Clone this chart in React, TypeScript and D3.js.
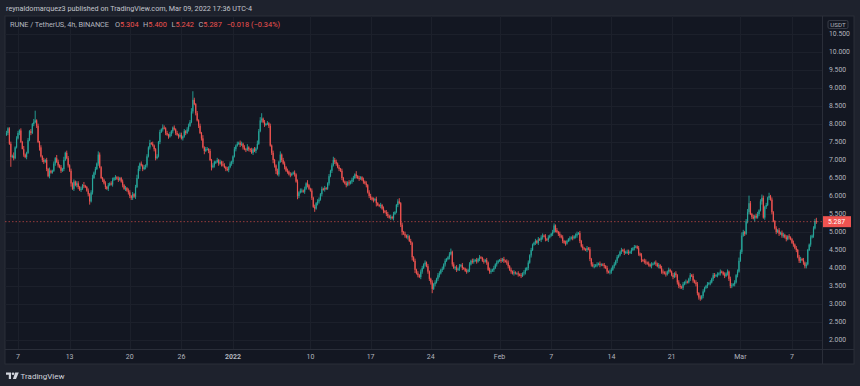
import React from 'react';
import * as d3 from 'd3';

// 4h closes, Dec 5 2021 16:00 UTC -> Mar 9 2022 20:00 UTC (one row per day)
const closes = [
  7.75, 7.88,
  7.45, 7.08, 7.12, 7.05, 7.35, 7.6,
  7.75, 7.82, 7.5, 7.3, 7.15, 7.08,
  7.2, 7.55, 7.8, 7.75, 8.0, 8.05,
  8.1, 7.95, 7.5, 7.35, 7.1, 7.0,
  6.95, 7.0, 6.75, 6.55, 6.7, 6.65,
  6.7, 6.9, 7.05, 6.95, 6.85, 6.8,
  6.7, 6.75, 7.0, 7.2, 7.05, 6.85,
  6.7, 6.35, 6.2, 6.4, 6.3, 6.35,
  6.25, 6.17, 6.2, 6.3, 6.28, 6.25,
  6.15, 6.05, 5.85, 6.1, 6.5, 6.65,
  6.75, 6.9, 7.15, 6.8, 6.5, 6.45,
  6.35, 6.25, 6.2, 6.3, 6.35, 6.32,
  6.45, 6.5, 6.52, 6.48, 6.45, 6.5,
  6.4, 6.3, 6.2, 6.22, 6.15, 6.1,
  6.0, 5.95, 6.05, 5.98, 6.25, 6.5,
  6.75, 6.9, 6.85, 6.75, 6.8, 6.85,
  7.1, 7.35, 7.47, 7.45, 7.4, 7.3,
  7.05, 7.1, 7.5, 7.78, 7.85, 7.9,
  7.88, 7.75, 7.7, 7.65, 7.72, 7.8,
  7.9, 7.85, 7.75, 7.7, 7.65, 7.7,
  7.6, 7.65, 7.8, 7.75, 7.85, 7.95,
  8.05, 8.35, 8.67, 8.55, 8.3, 8.1,
  7.95, 7.75, 7.6, 7.35, 7.25, 7.3,
  7.3, 7.25, 7.0, 6.8, 6.85, 6.95,
  6.95, 7.0, 6.9, 6.95, 6.88, 6.85,
  6.8, 6.75, 6.72, 6.8, 6.9, 6.95,
  7.1, 7.3, 7.4, 7.45, 7.48, 7.42,
  7.45, 7.35, 7.3, 7.28, 7.35, 7.3,
  7.28, 7.2, 7.3, 7.25, 7.32, 7.45,
  7.8, 8.1, 8.15, 8.05, 7.98, 8.0,
  8.02, 7.95, 7.4, 7.2, 7.0, 6.85,
  6.7, 6.6, 6.95, 7.15, 7.0, 6.9,
  6.8, 6.7, 6.68, 6.6, 6.58, 6.62,
  6.65, 6.6, 6.4, 6.0, 6.1, 6.15,
  6.15, 6.12, 6.2, 6.35, 6.3, 6.2,
  6.15, 5.95, 5.7, 5.65, 5.8, 5.85,
  5.9, 6.05, 6.2, 6.18, 6.22, 6.2,
  6.35, 6.55, 6.7, 6.85, 7.0, 6.95,
  6.9, 6.8, 6.75, 6.7, 6.5, 6.4,
  6.35, 6.3, 6.38, 6.35, 6.4, 6.45,
  6.5, 6.6, 6.55, 6.5, 6.48, 6.52,
  6.45, 6.4, 6.35, 6.3, 6.1, 6.0,
  5.95, 5.9, 5.88, 5.92, 5.8, 5.75,
  5.72, 5.75, 5.65, 5.58, 5.55, 5.5,
  5.45, 5.4, 5.42, 5.38, 5.5, 5.55,
  5.75, 5.85, 5.8, 5.2, 5.0, 4.95,
  4.9, 4.85, 4.88, 4.75, 4.7, 4.3,
  4.2, 3.95, 3.85, 3.8, 3.75, 3.9,
  4.0, 4.1, 4.15, 4.05, 3.9, 3.7,
  3.6, 3.42, 3.55, 3.6, 3.7, 3.8,
  3.85, 3.95, 3.98, 4.1, 4.2, 4.25,
  4.3, 4.38, 4.45, 4.1, 4.0, 4.02,
  3.95, 3.98, 4.05, 4.08, 4.0, 3.98,
  3.92, 3.9, 3.95, 4.1, 4.2, 4.18,
  4.2, 4.22, 4.18, 4.25, 4.3, 4.28,
  4.2, 4.18, 4.22, 4.15, 3.95, 3.9,
  3.92, 3.95, 4.0, 4.1, 4.15, 4.2,
  4.22, 4.2, 4.25, 4.2, 4.18, 4.15,
  4.05, 3.95, 3.9, 3.85, 3.88, 3.85,
  3.85, 3.82, 3.8, 3.78, 3.85, 3.88,
  3.95, 4.0, 4.15, 4.35, 4.5, 4.65,
  4.7, 4.75, 4.7, 4.8, 4.78, 4.85,
  4.9, 4.88, 4.8, 4.78, 4.85, 4.9,
  4.95, 5.0, 5.18, 5.05, 5.0, 4.95,
  4.9, 4.85, 4.75, 4.7, 4.68, 4.75,
  4.8, 4.82, 4.85, 4.83, 4.88, 4.9,
  4.95, 4.97, 4.75, 4.6, 4.55, 4.52,
  4.5, 4.55, 4.52, 4.25, 4.1, 4.05,
  4.05, 4.08, 4.1, 4.12, 4.08, 4.1,
  4.08, 4.05, 4.0, 3.9, 3.88, 3.9,
  3.95, 4.05, 4.1, 4.2, 4.3, 4.35,
  4.45, 4.5, 4.48, 4.42, 4.45, 4.45,
  4.42, 4.45, 4.5, 4.55, 4.58, 4.6,
  4.55, 4.4, 4.35, 4.22, 4.2, 4.18,
  4.15, 4.12, 4.1, 4.05, 4.1, 4.12,
  4.15, 4.12, 4.05, 4.08, 4.0, 3.9,
  3.88, 3.85, 3.82, 3.9, 3.95, 3.9,
  3.8, 3.75, 3.85, 3.8, 3.6, 3.5,
  3.48, 3.45, 3.55, 3.6, 3.62, 3.6,
  3.7, 3.8, 3.78, 3.65, 3.6, 3.55,
  3.3, 3.18, 3.15, 3.22, 3.35, 3.45,
  3.5, 3.55, 3.58, 3.6, 3.7, 3.8,
  3.78, 3.8, 3.82, 3.85, 3.9, 3.88,
  3.82, 3.78, 3.85, 3.9, 3.7, 3.5,
  3.52, 3.55, 3.6, 3.8, 3.9, 4.2,
  4.45, 4.9, 5.0, 4.95, 5.3, 5.55,
  5.8, 5.5, 5.42, 5.38, 5.45, 5.4,
  5.5, 5.6, 5.85, 5.95, 5.4, 5.7,
  5.75, 5.95, 6.0, 5.9, 5.55, 5.3,
  5.1, 5.0, 5.05, 4.95, 4.98, 4.9,
  4.92, 4.85, 4.8, 4.88, 4.85, 4.8,
  4.7, 4.65, 4.55, 4.5, 4.3, 4.2,
  4.25, 4.22, 4.15, 4.05, 4.1, 4.5,
  4.65, 4.85, 4.9, 5.1, 5.304, 5.287,
];
const firstOpen = 7.7;

// wick lengths per candle, in steps of 0.03 USDT (one group per day)
const wickHi = `21 121312 212131 121213 912121 212131 121321 213122 121212 212131 121231
213211 121212 212121 121212 212123 312121 213121 121213 212121 121212 212122
238212 121312 212121 121213 212121 121212 212131 121213 235121 212121 121312
212121 121212 212131 121212 212121 121232 212121 121212 213121 121212 212121
121212 212121 123121 212121 121212 212121 121212 212121 123121 212121 121212
212121 121212 212121 121212 212121 121212 212121 121212 212121 122121 212121
121212 212121 121212 212121 121212 212121 121212 212121 121212 212121 121212
212121 121212 212121 121212 212121 121212 212121 121212 212123 232123 721212
212321 213121 121212 212121 121212 212121 121223`;
const wickLo = `12 191211 121021 211212 121312 212121 112121 212112 131212 212121 123121
212112 121211 212121 121212 222121 121212 212112 211212 121212 212121 121212
112121 212131 121312 212121 121212 212112 121212 212121 112121 121232 312121
212121 121321 212121 121312 212121 121212 212121 121212 212121 121212 212131
121212 212121 121231 212123 131212 212122 241212 212121 121212 212121 121212
212121 121212 212121 121212 212121 121212 212121 121212 212121 121212 212121
121212 212121 121221 212121 121212 212121 121212 212121 121212 212121 121212
212121 121222 212121 121212 222121 121212 212121 121222 212121 121212 212131
121312 212121 121212 212121 121212 212221 121212`;

const priceTicks = [2, 2.5, 3, 3.5, 4, 4.5, 5, 5.5, 6, 6.5, 7, 7.5, 8, 8.5, 9, 9.5, 10, 10.5];
const timeTicks = [
  [2021, 11, 7, '7'], [2021, 11, 13, '13'], [2021, 11, 20, '20'], [2021, 11, 26, '26'],
  [2022, 0, 1, '2022'], [2022, 0, 10, '10'], [2022, 0, 17, '17'], [2022, 0, 24, '24'],
  [2022, 1, 1, 'Feb'], [2022, 1, 7, '7'], [2022, 1, 14, '14'], [2022, 1, 21, '21'],
  [2022, 2, 1, 'Mar'], [2022, 2, 7, '7'],
] as [number, number, number, string][];

const lastClose = 5.287;
const legendFields = [
  ['O', '5.304'], ['H', '5.400'], ['L', '5.242'], ['C', '5.287'],
];

const UP = '#26a69a';
const DOWN = '#ef5350';
const FONT = 'Roboto, "Noto Sans", sans-serif';

export default function App() {
  const W = 860, H = 386;
  const panel = { left: 5, right: 854, top: 16, bottom: 364 };
  const plotRight = 822;
  const axisTop = 349;

  const x = d3.scaleUtc()
    .domain([new Date(Date.UTC(2021, 11, 7)), new Date(Date.UTC(2022, 2, 7))])
    .range([18, 792]);
  const y = d3.scaleLinear().domain([2, 10.5]).range([340, 34]);

  const hiSteps = wickHi.replace(/\s+/g, '');
  const loSteps = wickLo.replace(/\s+/g, '');
  const start = Date.UTC(2021, 11, 5, 16);
  const step = 4 * 3600 * 1000;

  const candles = closes.map((c, i) => {
    const o = i === 0 ? firstOpen : closes[i - 1];
    const hi = Math.max(o, c) + (+hiSteps[i] || 0) * 0.03;
    const lo = Math.min(o, c) - (+loSteps[i] || 0) * 0.03;
    return { t: new Date(start + i * step), o, c, hi, lo };
  });

  const fmt = d3.format('.3f');

  return (
    <div>
      <style>{`body{margin:0;background:#1e222d}`}</style>
      <svg width={W} height={H} style={{ display: 'block', background: '#1e222d' }} fontFamily={FONT}>
        <defs>
          <clipPath id="plot">
            <rect x={panel.left} y={panel.top} width={plotRight - panel.left} height={axisTop - panel.top} />
          </clipPath>
        </defs>

        <text x={6} y={11} fontSize={7.4} fill="#c3c6ce" textLength={246} lengthAdjust="spacingAndGlyphs">
          reynaldomarquez3 published on TradingView.com, Mar 09, 2022 17:36 UTC-4
        </text>

        <rect x={panel.left} y={panel.top} width={panel.right - panel.left} height={panel.bottom - panel.top}
          fill="#131722" stroke="#2a2e39" strokeWidth={1} />

        {/* grid */}
        <g stroke="#1c202b" strokeWidth={1}>
          {priceTicks.map(p => (
            <line key={p} x1={panel.left} x2={plotRight} y1={Math.round(y(p)) + 0.5} y2={Math.round(y(p)) + 0.5} />
          ))}
          {timeTicks.map(([yr, m, d]) => {
            const xx = Math.round(x(new Date(Date.UTC(yr, m, d)))) + 0.5;
            return <line key={`${yr}-${m}-${d}`} x1={xx} x2={xx} y1={panel.top} y2={axisTop} />;
          })}
        </g>

        {/* candles */}
        <g clipPath="url(#plot)">
          {candles.map((d, i) => {
            const cx = x(d.t);
            const col = d.c >= d.o ? UP : DOWN;
            const yTop = y(Math.max(d.o, d.c));
            const yBot = y(Math.min(d.o, d.c));
            return (
              <g key={i}>
                <line x1={cx} x2={cx} y1={y(d.hi)} y2={y(d.lo)} stroke={col} strokeWidth={0.9} />
                <rect x={cx - 0.6} width={1.2} y={yTop} height={Math.max(1, yBot - yTop)} fill={col} />
              </g>
            );
          })}
          <line x1={panel.left} x2={plotRight} y1={y(lastClose)} y2={y(lastClose)}
            stroke={DOWN} strokeOpacity={0.6} strokeWidth={1} strokeDasharray="1.5,2" />
        </g>

        {/* axes separators */}
        <line x1={plotRight + 0.5} x2={plotRight + 0.5} y1={panel.top} y2={panel.bottom} stroke="#2a2e39" />
        <line x1={panel.left} x2={panel.right} y1={axisTop + 0.5} y2={axisTop + 0.5} stroke="#2a2e39" />

        {/* price axis */}
        <g fontSize={6.8} fill="#b2b5be">
          {priceTicks.map(p => (
            <text key={p} x={829} y={y(p)} dy="0.35em">{fmt(p)}</text>
          ))}
        </g>
        <rect x={828} y={20.5} width={20} height={8} rx={1.5} fill="#131722" stroke="#434651" strokeWidth={0.8} />
        <text x={838} y={24.6} dy="0.35em" fontSize={6.2} fill="#b2b5be" textAnchor="middle">USDT</text>

        <rect x={plotRight + 1} y={y(lastClose) - 5.5} width={28} height={11} fill={DOWN} />
        <text x={836.5} y={y(lastClose)} dy="0.35em" fontSize={6.8} fill="#ffffff" textAnchor="middle">{fmt(lastClose)}</text>

        {/* time axis */}
        <g fontSize={7} fill="#b2b5be" textAnchor="middle">
          {timeTicks.map(([yr, m, d, label]) => (
            <text key={`${yr}-${m}-${d}`} x={x(new Date(Date.UTC(yr, m, d)))} y={357} dy="0.35em"
              fontWeight={label === '2022' ? 700 : 400}>{label}</text>
          ))}
        </g>

        {/* legend */}
        <text x={10} y={27} fontSize={7.4} fill="#b2b5be">
          <tspan textLength={99} lengthAdjust="spacing">RUNE / TetherUS, 4h, BINANCE</tspan>
          {legendFields.map(([k, v], i) => (
            <React.Fragment key={k}>
              <tspan dx={i === 0 ? 6 : 4.5}>{k}</tspan>
              <tspan fill={DOWN}>{v}</tspan>
            </React.Fragment>
          ))}
          <tspan dx={4.5} fill={DOWN}>−0.018 (−0.34%)</tspan>
        </text>

        {/* footer logo */}
        <g fill="#d1d4dc">
          <path d="M6 372.5h5v6.5h-2.2v-4.3H6z" />
          <circle cx={13} cy={373.8} r={1.3} />
          <path d="M15.2 372.5h3.6l-2.8 6.5h-3.1z" />
        </g>
        <text x={20.5} y={379} fontSize={8} fill="#d1d4dc">TradingView</text>
      </svg>
    </div>
  );
}
